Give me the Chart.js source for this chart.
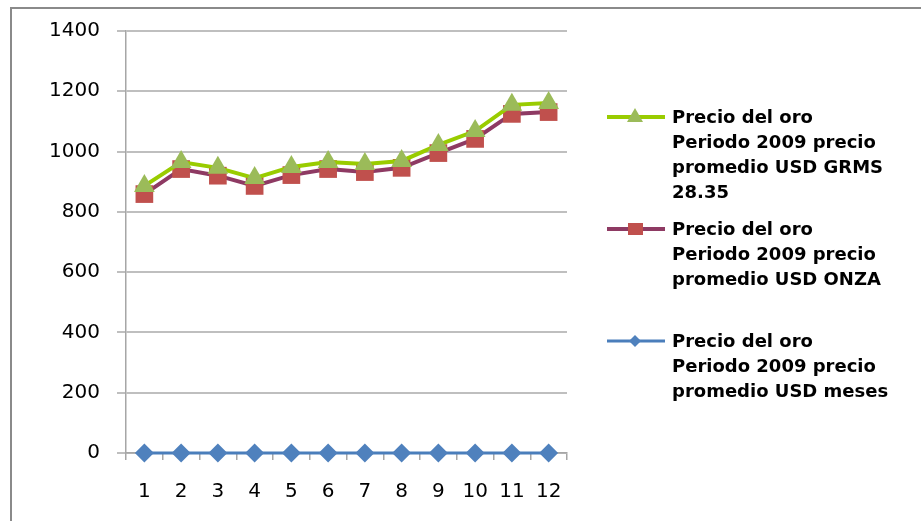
<!DOCTYPE html>
<html><head><meta charset="utf-8">
<script src="https://cdn.jsdelivr.net/npm/chart.js@4"></script>
<style>
html,body{margin:0;padding:0;width:921px;height:521px;overflow:hidden;background:#fff;}
#frame{position:absolute;left:10px;top:7px;width:1000px;height:1000px;border-left:2px solid #8a8a8a;border-top:2px solid #8a8a8a;}
#wrap{position:absolute;left:0;top:0;width:921px;height:521px;}
#legend{position:absolute;left:0;top:0;font-family:"DejaVu Sans";font-weight:bold;font-size:18px;color:#000;}
.item{position:absolute;left:604px;}
.item svg{position:absolute;left:0;top:0;}
.item .txt{position:absolute;left:68px;top:0;line-height:25px;white-space:nowrap;}
</style></head><body>
<div id="frame"></div>
<div id="wrap"><canvas id="c" width="921" height="521"></canvas></div>
<div id="legend"></div>
<script>
const categories = ['1','2','3','4','5','6','7','8','9','10','11','12'];
const grmsValues = [886, 965, 946, 912, 949, 965, 959, 969, 1022, 1068, 1155, 1161];
const onzaValues = [859, 942, 920, 886, 922, 942, 932, 946, 995, 1042, 1125, 1131];
const mesesValues = [0, 0, 0, 0, 0, 0, 0, 0, 0, 0, 0, 0];
const seriesNames = [
  ['Precio del oro', 'Periodo 2009 precio', 'promedio USD GRMS', '28.35'],
  ['Precio del oro', 'Periodo 2009 precio', 'promedio USD ONZA'],
  ['Precio del oro', 'Periodo 2009 precio', 'promedio USD meses']
];
const yMin = 0, yMax = 1400, yStep = 200;

const lineColors = ['#99CC00', '#8E3A63', '#4A7EBB'];
const markerColors = ['#9BBB59', '#C0504D', '#4F81BD'];
const markerStyles = ['triangle', 'rect', 'rectRot'];
const markerRadii = [12, 12.5, 9.5];
const lineWidths = [4, 4, 3];
const seriesValues = [grmsValues, onzaValues, mesesValues];

const datasets = seriesValues.map((vals, i) => ({
  label: seriesNames[i].join(' '),
  data: vals,
  borderColor: lineColors[i],
  backgroundColor: markerColors[i],
  borderWidth: lineWidths[i],
  pointStyle: markerStyles[i],
  pointRadius: markerRadii[i],
  pointHoverRadius: markerRadii[i],
  pointBackgroundColor: markerColors[i],
  pointBorderColor: markerColors[i],
  pointBorderWidth: 0,
  tension: 0,
  fill: false,
  clip: false
}));

const tickFont = {family: 'DejaVu Sans', size: 20};

new Chart(document.getElementById('c'), {
  type: 'line',
  data: {labels: categories, datasets},
  options: {
    responsive: false,
    animation: false,
    events: [],
    layout: {padding: {left: 0, top: 31, right: 354, bottom: 0}},
    plugins: {legend: {display: false}, tooltip: {enabled: false}},
    scales: {
      x: {
        type: 'category',
        offset: true,
        grid: {offset: true, drawOnChartArea: false, drawTicks: true, tickLength: 7, color: '#a6a6a6', lineWidth: 1.5},
        border: {display: true, color: '#a6a6a6', width: 1.5},
        ticks: {color: '#000', font: tickFont, padding: 20, maxRotation: 0, autoSkip: false},
        afterFit: s => { s.height = 68; }
      },
      y: {
        min: yMin, max: yMax,
        grid: {color: '#bfbfbf', lineWidth: 2, drawTicks: true, tickLength: 9},
        border: {display: true, color: '#a6a6a6', width: 1.5},
        ticks: {stepSize: yStep, color: '#000', font: tickFont, padding: 17, callback: v => String(v)},
        afterFit: s => { s.width = 126; }
      }
    }
  }
});

// HTML legend
const legendTops = [104, 216, 328];
const legend = document.getElementById('legend');
seriesNames.forEach((lines, i) => {
  const item = document.createElement('div');
  item.className = 'item';
  item.style.top = legendTops[i] + 'px';
  const cy = 13;
  let marker = '';
  if (markerStyles[i] === 'triangle') {
    marker = `<polygon points="31,${cy-9} 39,${cy+5} 23,${cy+5}" fill="${markerColors[i]}"/>`;
  } else if (markerStyles[i] === 'rect') {
    marker = `<rect x="24" y="${cy-6}" width="15" height="12" fill="${markerColors[i]}"/>`;
  } else {
    marker = `<polygon points="31,${cy-6} 37,${cy} 31,${cy+6} 25,${cy}" fill="${markerColors[i]}"/>`;
  }
  item.innerHTML = `<svg width="64" height="26"><line x1="3" y1="${cy}" x2="61" y2="${cy}" stroke="${lineColors[i]}" stroke-width="${lineWidths[i]}"/>${marker}</svg>` +
    `<div class="txt">${lines.join('<br>')}</div>`;
  legend.appendChild(item);
});
</script>
</body></html>
